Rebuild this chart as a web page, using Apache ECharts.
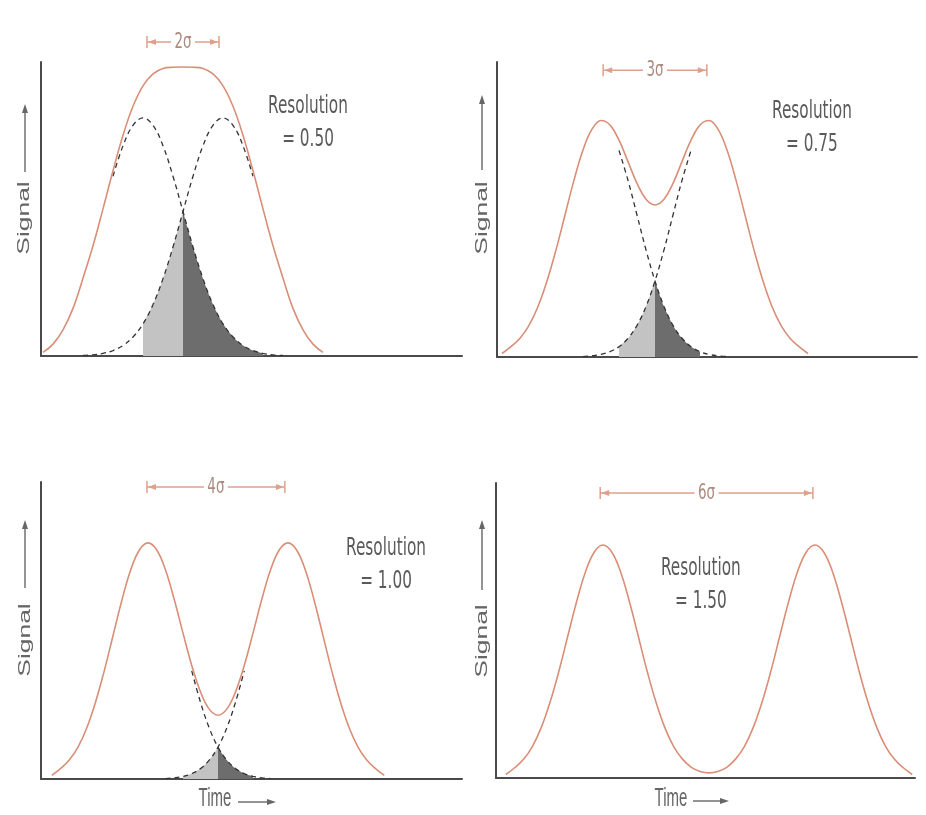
<!DOCTYPE html>
<html><head><meta charset="utf-8">
<script src="https://cdn.jsdelivr.net/npm/echarts@6/dist/echarts.min.js"></script>
<style>html,body{margin:0;padding:0;background:#fff}#c{width:926px;height:815px}</style>
</head><body><div id="c"></div>
<script>
// Time in units of sigma, signal relative to one single peak (= 100)

// ---- Panel 1: Resolution = 0.50 (peaks 2σ apart)
const time1 = [0.5,0.75,1,1.25,1.5,1.75,2,2.25,2.5,2.75,3,3.25,3.5,3.75,4,4.25,4.5,4.75,5,5.25,5.5,5.75,6,6.25,6.5,6.75,7,7.25,7.5];
const sum1 = [1.5,5.0,11.0,20.0,32.7,46.3,61.8,77.8,92.7,104.9,113.5,118.5,120.8,121.3,121.4,121.3,120.8,118.5,113.5,104.9,92.7,77.8,61.8,46.3,32.7,20.0,11.0,5.0,1.5];
const peakATime1 = [2.25,2.5,2.75,3,3.25,3.5,3.75,4,4.25,4.5,4.75,5,5.25,5.5,5.75,6,6.25,6.5];
const peakA1 = [75.5,88.3,96.9,100,96.9,88.3,75.5,60.7,45.8,32.5,21.6,13.5,8.0,4.4,2.3,1.1,0.5,0.2];
const peakBTime1 = [1.5,1.75,2,2.25,2.5,2.75,3,3.25,3.5,3.75,4,4.25,4.5,4.75,5,5.25,5.5,5.75];
const peakB1 = [0.2,0.5,1.1,2.3,4.4,8.0,13.5,21.6,32.5,45.8,60.7,75.5,88.3,96.9,100,96.9,88.3,75.5];
const overlapLTime1 = [3,3.25,3.5,3.75,4];
const overlapL1 = [13.5,21.6,32.5,45.8,60.7];
const overlapRTime1 = [4,4.25,4.5,4.75,5,5.25,5.5,5.75,6];
const overlapR1 = [60.7,45.8,32.5,21.6,13.5,8.0,4.4,2.3,1.1];

// ---- Panel 2: Resolution = 0.75 (peaks 3σ apart)
const time2 = [0.25,0.5,0.75,1,1.25,1.5,1.75,2,2.25,2.5,2.75,3,3.25,3.5,3.75,4,4.25,4.5,4.75,5,5.25,5.5,5.75,6,6.25,6.5,6.75,7,7.25,7.5,7.75,8,8.25,8.5,8.75];
const sum2 = [1.5,4.4,8.0,13.5,21.6,32.5,45.8,60.7,75.6,88.5,97.4,101.1,99.2,92.7,83.5,74.2,67.4,65.0,67.4,74.2,83.5,92.7,99.2,101.1,97.4,88.5,75.6,60.7,45.8,32.5,21.6,13.5,8.0,4.4,1.5];
const peakATime2 = [3.5,3.75,4,4.25,4.5,4.75,5,5.25,5.5,5.75,6,6.25,6.5];
const peakA2 = [88.3,75.5,60.7,45.8,32.5,21.6,13.5,8.0,4.4,2.3,1.1,0.5,0.2];
const peakBTime2 = [2.5,2.75,3,3.25,3.5,3.75,4,4.25,4.5,4.75,5,5.25,5.5];
const peakB2 = [0.2,0.5,1.1,2.3,4.4,8.0,13.5,21.6,32.5,45.8,60.7,75.5,88.3];
const overlapLTime2 = [3.5,3.75,4,4.25,4.5];
const overlapL2 = [4.4,8.0,13.5,21.6,32.5];
const overlapRTime2 = [4.5,4.75,5,5.25,5.5,5.75];
const overlapR2 = [32.5,21.6,13.5,8.0,4.4,2.3];

// ---- Panel 3: Resolution = 1.00 (peaks 4σ apart)
const time3 = [0.25,0.5,0.75,1,1.25,1.5,1.75,2,2.25,2.5,2.75,3,3.25,3.5,3.75,4,4.25,4.5,4.75,5,5.25,5.5,5.75,6,6.25,6.5,6.75,7,7.25,7.5,7.75,8,8.25,8.5,8.75,9,9.25,9.5,9.75];
const sum3 = [1.5,4.4,8.0,13.5,21.6,32.5,45.8,60.7,75.5,88.3,96.9,100.0,97.0,88.5,76.0,61.8,48.1,36.9,29.6,27.0,29.6,36.9,48.1,61.8,76.0,88.5,97.0,100.0,96.9,88.3,75.5,60.7,45.8,32.5,21.6,13.5,8.0,4.4,1.5];
const peakATime3 = [4.25,4.5,4.75,5,5.25,5.5,5.75,6,6.25,6.5];
const peakA3 = [45.8,32.5,21.6,13.5,8.0,4.4,2.3,1.1,0.5,0.2];
const peakBTime3 = [3.5,3.75,4,4.25,4.5,4.75,5,5.25,5.5,5.75];
const peakB3 = [0.2,0.5,1.1,2.3,4.4,8.0,13.5,21.6,32.5,45.8];
const overlapLTime3 = [4,4.25,4.5,4.75,5];
const overlapL3 = [1.1,2.3,4.4,8.0,13.5];
const overlapRTime3 = [5,5.25,5.5,5.75,6];
const overlapR3 = [13.5,8.0,4.4,2.3,1.1];

// ---- Panel 4: Resolution = 1.50 (peaks 6σ apart)
const time4 = [0.25,0.5,0.75,1,1.25,1.5,1.75,2,2.25,2.5,2.75,3,3.25,3.5,3.75,4,4.25,4.5,4.75,5,5.25,5.5,5.75,6,6.25,6.5,6.75,7,7.25,7.5,7.75,8,8.25,8.5,8.75,9,9.25,9.5,9.75,10,10.25,10.5,10.75,11,11.25,11.5,11.75];
const sum4 = [1.5,4.4,8.0,13.5,21.6,32.5,45.8,60.7,75.5,88.3,96.9,100,96.9,88.3,75.5,60.7,45.8,32.5,21.6,13.5,8.1,4.6,2.8,2.2,2.8,4.6,8.1,13.5,21.6,32.5,45.8,60.7,75.5,88.3,96.9,100,96.9,88.3,75.5,60.7,45.8,32.5,21.6,13.5,8.0,4.4,1.5];

// ---- Annotations (separation bars and resolution labels), in data units
const sepStart = [3.1, 3.06, 2.97, 2.92];
const sepEnd = [4.9, 5.94, 6.91, 8.94];
const sepLevel = [131.9, 122.6, 123.7, 122.3];
const sepLabels = ['2σ', '3σ', '4σ', '6σ'];
const resTime = [7.125, 8.86, 9.80, 5.77];
const resLevel = [97.9, 97.9, 90.7, 82.8];
const resLabels = ['= 0.50', '= 0.75', '= 1.00', '= 1.50'];

// ---- Axis extents per panel
const xRanges = [[0.45, 10.975], [0.111, 11.778], [-0.057, 11.971], [-0.029, 11.83]];
const yMaxes = [123.5, 126.1, 125.8, 126.6];

const panels = [
  {sum:[time1,sum1], a:[peakATime1,peakA1], b:[peakBTime1,peakB1], l:[overlapLTime1,overlapL1], r:[overlapRTime1,overlapR1]},
  {sum:[time2,sum2], a:[peakATime2,peakA2], b:[peakBTime2,peakB2], l:[overlapLTime2,overlapL2], r:[overlapRTime2,overlapR2]},
  {sum:[time3,sum3], a:[peakATime3,peakA3], b:[peakBTime3,peakB3], l:[overlapLTime3,overlapL3], r:[overlapRTime3,overlapR3]},
  {sum:[time4,sum4]}
];

const grids = [
  {left:41, top:62, width:421, height:294},
  {left:497, top:62, width:420, height:295},
  {left:41, top:482, width:421, height:297},
  {left:496, top:483, width:419, height:295}
];

const ENV = '#d98f77', DIM = '#dea08b', AX = '#4a4a4a', TXT = '#5a5a5a';
const NARROW = '"Liberation Sans Narrow","DejaVu Sans Condensed","Liberation Sans",sans-serif';
const SANS = '"Liberation Sans",Arial,sans-serif';

function pairs(p) { return p[0].map((x, i) => [x, p[1][i]]); }

function axisBase() {
  return {type:'value', axisLine:{show:true, onZero:false, lineStyle:{color:AX, width:2}},
    axisTick:{show:false}, axisLabel:{show:false}, splitLine:{show:false}};
}

const xAxis = [], yAxis = [], series = [];
grids.forEach((g, p) => {
  xAxis.push(Object.assign(axisBase(), {gridIndex:p, min:xRanges[p][0], max:xRanges[p][1]}));
  yAxis.push(Object.assign(axisBase(), {gridIndex:p, min:0, max:yMaxes[p]}));
  const P = panels[p];
  const base = {type:'line', xAxisIndex:p, yAxisIndex:p, showSymbol:false, symbol:'none', silent:true, animation:false};
  if (P.l) {
    series.push(Object.assign({}, base, {name:'overlap-left-'+p, data:pairs(P.l), smooth:0.3, z:1,
      lineStyle:{width:0}, areaStyle:{color:'#c3c3c3', opacity:1}}));
    series.push(Object.assign({}, base, {name:'overlap-right-'+p, data:pairs(P.r), smooth:0.3, z:1,
      lineStyle:{width:0}, areaStyle:{color:'#6d6d6d', opacity:1}}));
    series.push(Object.assign({}, base, {name:'peakA-'+p, data:pairs(P.a), smooth:0.4, z:2,
      lineStyle:{color:'#333', width:1.3, type:[5,4]}}));
    series.push(Object.assign({}, base, {name:'peakB-'+p, data:pairs(P.b), smooth:0.4, z:2,
      lineStyle:{color:'#333', width:1.3, type:[5,4]}}));
  }
  series.push(Object.assign({}, base, {name:'sum-'+p, data:pairs(P.sum), smooth:0.4, z:3,
    lineStyle:{color:ENV, width:1.6}}));
  series.push({
    type:'custom', name:'annot-'+p, xAxisIndex:p, yAxisIndex:p, silent:true, animation:false, z:4, clip:false,
    encode:{x:[0,1,3], y:[2,4]},
    data:[[sepStart[p], sepEnd[p], sepLevel[p], resTime[p], resLevel[p]]],
    renderItem: function (params, api) {
      const a = api.coord([api.value(0), api.value(2)]);
      const b = api.coord([api.value(1), api.value(2)]);
      const r = api.coord([api.value(3), api.value(4)]);
      const y = a[1], mid = (a[0] + b[0]) / 2, gap = 12;
      const ls = {stroke:DIM, lineWidth:1.5};
      return {type:'group', children:[
        {type:'line', shape:{x1:a[0], y1:y, x2:mid-gap, y2:y}, style:ls},
        {type:'line', shape:{x1:mid+gap, y1:y, x2:b[0], y2:y}, style:ls},
        {type:'line', shape:{x1:a[0], y1:y-6, x2:a[0], y2:y+6}, style:ls},
        {type:'line', shape:{x1:b[0], y1:y-6, x2:b[0], y2:y+6}, style:ls},
        {type:'polygon', shape:{points:[[a[0]+1,y],[a[0]+9,y-3],[a[0]+9,y+3]]}, style:{fill:DIM}},
        {type:'polygon', shape:{points:[[b[0]-1,y],[b[0]-9,y-3],[b[0]-9,y+3]]}, style:{fill:DIM}},
        {type:'text', x:mid, y:y, scaleY:1.45, style:{text:sepLabels[p], fill:'#a98b80', font:'15px '+NARROW,
          align:'center', verticalAlign:'middle', textAlign:'center', textVerticalAlign:'middle'}},
        {type:'text', x:r[0], y:r[1], scaleY:1.45, style:{text:'Resolution\n' + resLabels[p], fill:TXT, font:'17px '+NARROW,
          lineHeight:23, align:'center', verticalAlign:'middle', textAlign:'center', textVerticalAlign:'middle'}}
      ]};
    }
  });
});

function signalLabel(cx, cy, ax, ayTop, ayBot) {
  return [
    {type:'text', x:cx, y:cy, rotation:Math.PI/2, scaleX:1.65,
      style:{text:'Signal', font:'16px '+SANS, fill:'#666', align:'center', verticalAlign:'middle', textAlign:'center', textVerticalAlign:'middle'}},
    {type:'line', shape:{x1:ax, y1:ayBot, x2:ax, y2:ayTop+6}, style:{stroke:'#666', lineWidth:1.4}},
    {type:'polygon', shape:{points:[[ax,ayTop],[ax-3,ayTop+9],[ax+3,ayTop+9]]}, style:{fill:'#666'}}
  ];
}
function timeLabel(cx, cy, ax1, ax2, ay) {
  return [
    {type:'text', x:cx, y:cy, scaleY:1.7,
      style:{text:'Time', font:'15px '+SANS, fill:'#666', align:'center', verticalAlign:'middle', textAlign:'center', textVerticalAlign:'middle'}},
    {type:'line', shape:{x1:ax1, y1:ay, x2:ax2-6, y2:ay}, style:{stroke:'#666', lineWidth:1.4}},
    {type:'polygon', shape:{points:[[ax2,ay],[ax2-9,ay-3],[ax2-9,ay+3]]}, style:{fill:'#666'}}
  ];
}

const graphic = [].concat(
  signalLabel(25, 218, 25, 104, 172),
  signalLabel(483, 218, 482, 95, 170),
  signalLabel(26, 640, 25, 520, 588),
  signalLabel(483, 641, 482, 520, 590),
  timeLabel(215, 799, 238, 276, 802),
  timeLabel(671, 799, 693, 729, 801)
);

const chart = echarts.init(document.getElementById('c'), null, {renderer:'canvas'});
chart.setOption({
  backgroundColor:'#ffffff',
  animation:false,
  grid:grids,
  xAxis:xAxis,
  yAxis:yAxis,
  series:series,
  graphic:graphic
});
</script></body></html>
